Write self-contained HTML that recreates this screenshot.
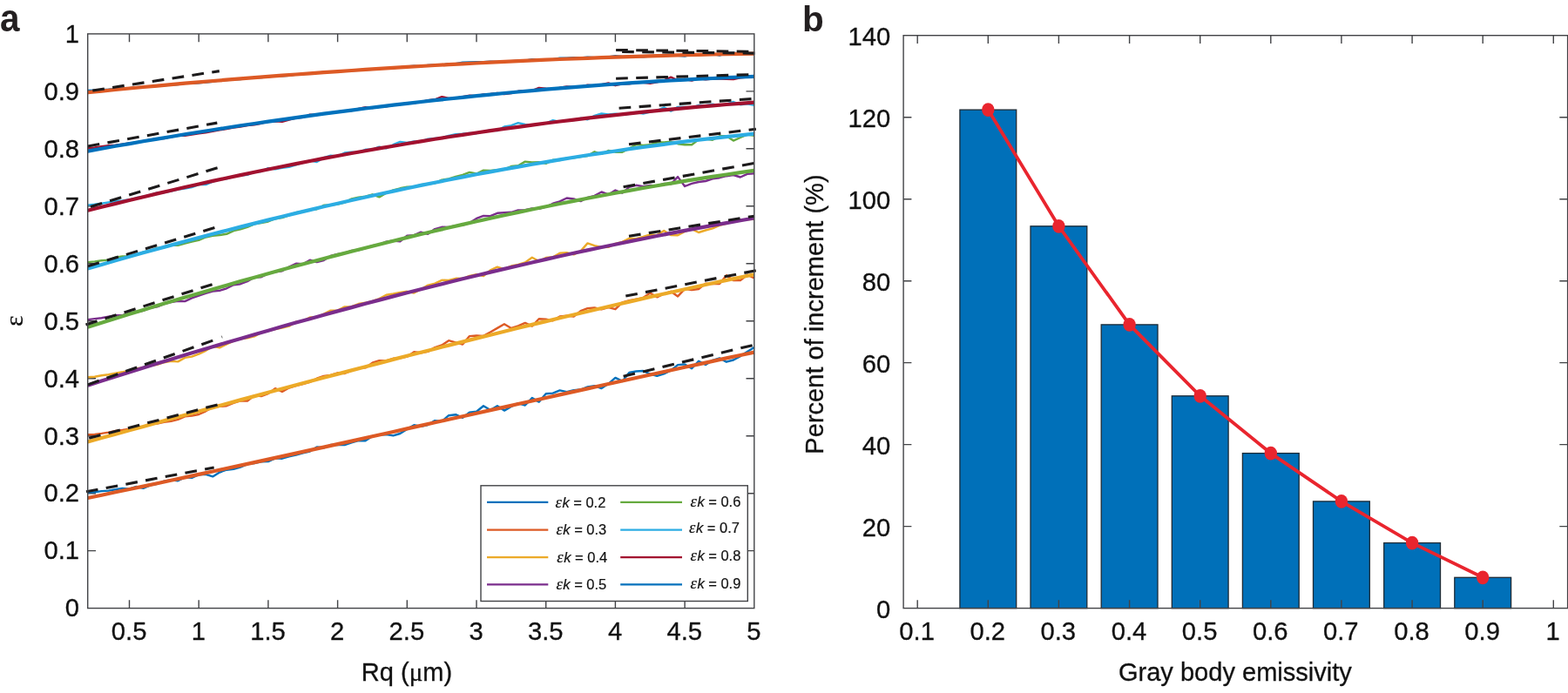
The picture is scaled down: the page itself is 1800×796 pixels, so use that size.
<!DOCTYPE html>
<html lang="en"><head><meta charset="utf-8"><title>Figure</title>
<style>
html,body{margin:0;padding:0;background:#fff;}
body{width:1800px;height:796px;overflow:hidden;}
svg{display:block;}
text{font-family:"Liberation Sans","DejaVu Sans",sans-serif;fill:#111;stroke:#111;stroke-width:0.3px;}
.tk{font-size:29.2px;}
.lb{font-size:29.05px;}
.lg{font-size:16.5px;stroke-width:0.2px;}
.it{font-style:italic;}
.ei{font-family:"Liberation Serif","DejaVu Serif",serif;font-style:italic;font-size:18.5px;}
.ep{font-family:"Liberation Serif","DejaVu Serif",serif;font-size:30px;stroke-width:0.2px;}
.mu{font-family:"Liberation Serif","DejaVu Serif",serif;}
.pl{font-size:40.5px;font-weight:bold;fill:#231F20;stroke:none;}
</style></head><body>
<svg width="1800" height="796" viewBox="0 0 1800 796">
<rect width="1800" height="796" fill="#fff"/>
<g id="pa">
<path d="M100.7 104.9h9.3 M865.8 104.9h-9.3" stroke="#424346" stroke-width="1.4" fill="none"/>
<path d="M100.7 170.8h9.3 M865.8 170.8h-9.3" stroke="#424346" stroke-width="1.4" fill="none"/>
<path d="M100.7 236.8h9.3 M865.8 236.8h-9.3" stroke="#424346" stroke-width="1.4" fill="none"/>
<path d="M100.7 302.8h9.3 M865.8 302.8h-9.3" stroke="#424346" stroke-width="1.4" fill="none"/>
<path d="M100.7 368.8h9.3 M865.8 368.8h-9.3" stroke="#424346" stroke-width="1.4" fill="none"/>
<path d="M100.7 434.7h9.3 M865.8 434.7h-9.3" stroke="#424346" stroke-width="1.4" fill="none"/>
<path d="M100.7 500.7h9.3 M865.8 500.7h-9.3" stroke="#424346" stroke-width="1.4" fill="none"/>
<path d="M100.7 566.7h9.3 M865.8 566.7h-9.3" stroke="#424346" stroke-width="1.4" fill="none"/>
<path d="M100.7 632.6h9.3 M865.8 632.6h-9.3" stroke="#424346" stroke-width="1.4" fill="none"/>
<polyline fill="none" stroke="#0071BC" stroke-width="2.4" stroke-linejoin="round" points="100.7,565.6 108.7,565.2 116.6,564.1 124.6,563.6 132.6,562.2 140.5,560.9 148.5,561.7 156.5,559.0 164.5,560.8 172.4,557.3 180.4,555.9 188.4,552.6 196.3,551.2 204.3,552.3 212.3,548.2 220.2,548.8 228.2,545.2 236.2,544.8 244.2,547.4 252.1,542.5 260.1,539.7 268.1,538.9 276.0,536.6 284.0,533.1 292.0,532.1 299.9,530.4 307.9,530.1 315.9,526.3 323.9,526.7 331.8,524.4 339.8,522.6 347.8,520.3 355.7,518.5 363.7,513.4 371.7,514.3 379.6,511.0 387.6,510.9 395.6,511.0 403.6,508.3 411.5,506.2 419.5,506.2 427.5,501.0 435.4,499.5 443.4,499.1 451.4,500.4 459.3,498.0 467.3,492.9 475.3,488.3 483.2,489.9 491.2,488.0 499.2,483.1 507.2,483.9 515.1,477.2 523.1,476.2 531.1,479.8 539.0,473.6 547.0,472.7 555.0,466.2 562.9,471.0 570.9,466.2 578.9,471.6 586.9,467.0 594.8,463.1 602.8,465.5 610.8,457.1 618.7,461.6 626.7,452.2 634.7,451.6 642.6,448.4 650.6,450.1 658.6,448.1 666.6,447.5 674.5,444.4 682.5,443.1 690.5,446.0 698.4,440.8 706.4,433.9 714.4,437.9 722.3,427.9 730.3,426.5 738.3,426.0 746.3,429.7 754.2,431.8 762.2,429.3 770.2,425.4 778.1,419.1 786.1,418.4 794.1,423.3 802.0,414.7 810.0,419.0 818.0,413.8 826.0,411.4 833.9,415.7 841.9,413.5 849.9,409.1 857.8,404.1 865.8,399.0"/>
<polyline fill="none" stroke="#DD5A25" stroke-width="4.2" stroke-linejoin="round" points="100.7,572.0 116.6,568.7 132.6,565.3 148.5,562.0 164.5,558.6 180.4,555.2 196.3,551.8 212.3,548.4 228.2,544.9 244.2,541.5 260.1,538.0 276.0,534.6 292.0,531.1 307.9,527.6 323.9,524.1 339.8,520.6 355.7,517.1 371.7,513.6 387.6,510.1 403.6,506.6 419.5,503.0 435.4,499.5 451.4,496.0 467.3,492.4 483.2,488.9 499.2,485.3 515.1,481.8 531.1,478.2 547.0,474.7 562.9,471.1 578.9,467.6 594.8,464.0 610.8,460.5 626.7,457.0 642.6,453.4 658.6,449.9 674.5,446.4 690.5,442.8 706.4,439.3 722.3,435.8 738.3,432.3 754.2,428.8 770.2,425.3 786.1,421.8 802.0,418.4 818.0,414.9 833.9,411.4 849.9,408.0 865.8,404.6"/>
<polyline fill="none" stroke="#DD5A25" stroke-width="2.4" stroke-linejoin="round" points="100.7,499.2 108.7,498.9 116.6,497.9 124.6,496.6 132.6,494.9 140.5,494.0 148.5,492.8 156.5,491.4 164.5,490.2 172.4,486.3 180.4,486.6 188.4,484.9 196.3,483.8 204.3,481.8 212.3,478.3 220.2,477.6 228.2,476.0 236.2,472.3 244.2,467.7 252.1,466.9 260.1,466.2 268.1,462.9 276.0,460.3 284.0,460.5 292.0,454.3 299.9,455.0 307.9,452.1 315.9,446.1 323.9,449.9 331.8,445.5 339.8,443.1 347.8,441.1 355.7,438.9 363.7,434.7 371.7,431.9 379.6,430.9 387.6,428.3 395.6,429.0 403.6,425.7 411.5,422.9 419.5,422.4 427.5,416.7 435.4,414.1 443.4,414.5 451.4,411.8 459.3,411.4 467.3,409.7 475.3,404.3 483.2,405.2 491.2,403.9 499.2,399.1 507.2,396.5 515.1,391.2 523.1,393.3 531.1,395.6 539.0,386.1 547.0,385.5 555.0,385.9 562.9,381.5 570.9,376.9 578.9,372.3 586.9,377.0 594.8,374.3 602.8,370.9 610.8,374.6 618.7,366.2 626.7,366.6 634.7,368.3 642.6,363.5 650.6,362.6 658.6,363.6 666.6,357.2 674.5,354.1 682.5,353.5 690.5,355.3 698.4,353.2 706.4,355.2 714.4,347.4 722.3,345.2 730.3,343.7 738.3,342.1 746.3,336.6 754.2,341.3 762.2,337.5 770.2,334.8 778.1,340.4 786.1,331.9 794.1,333.0 802.0,332.0 810.0,325.6 818.0,326.1 826.0,326.0 833.9,316.2 841.9,322.0 849.9,322.0 857.8,315.7 865.8,319.4"/>
<polyline fill="none" stroke="#ECAA28" stroke-width="4.2" stroke-linejoin="round" points="100.7,507.5 116.6,503.1 132.6,498.7 148.5,494.3 164.5,489.9 180.4,485.5 196.3,481.1 212.3,476.8 228.2,472.4 244.2,468.1 260.1,463.7 276.0,459.4 292.0,455.1 307.9,450.8 323.9,446.5 339.8,442.3 355.7,438.0 371.7,433.8 387.6,429.6 403.6,425.4 419.5,421.2 435.4,417.1 451.4,412.9 467.3,408.8 483.2,404.7 499.2,400.7 515.1,396.6 531.1,392.6 547.0,388.6 562.9,384.7 578.9,380.7 594.8,376.8 610.8,372.9 626.7,369.1 642.6,365.3 658.6,361.5 674.5,357.7 690.5,354.0 706.4,350.3 722.3,346.6 738.3,342.9 754.2,339.3 770.2,335.8 786.1,332.3 802.0,328.8 818.0,325.3 833.9,321.9 849.9,318.5 865.8,315.2"/>
<polyline fill="none" stroke="#ECAA28" stroke-width="2.4" stroke-linejoin="round" points="100.7,433.3 108.7,432.7 116.6,431.3 124.6,430.2 132.6,428.6 140.5,427.3 148.5,425.3 156.5,423.3 164.5,422.4 172.4,420.0 180.4,418.9 188.4,416.2 196.3,414.9 204.3,415.4 212.3,410.9 220.2,409.6 228.2,406.6 236.2,402.8 244.2,397.9 252.1,399.4 260.1,395.5 268.1,391.6 276.0,389.2 284.0,388.4 292.0,386.4 299.9,382.0 307.9,380.1 315.9,378.1 323.9,376.5 331.8,374.7 339.8,369.6 347.8,368.9 355.7,364.5 363.7,364.4 371.7,360.6 379.6,356.6 387.6,356.5 395.6,352.4 403.6,352.2 411.5,349.0 419.5,347.8 427.5,346.0 435.4,343.1 443.4,338.7 451.4,337.5 459.3,335.9 467.3,334.8 475.3,336.5 483.2,332.3 491.2,327.6 499.2,325.6 507.2,321.8 515.1,321.9 523.1,319.8 531.1,320.0 539.0,316.9 547.0,315.1 555.0,317.0 562.9,310.3 570.9,306.7 578.9,309.2 586.9,305.5 594.8,303.8 602.8,301.5 610.8,295.8 618.7,300.0 626.7,296.0 634.7,295.2 642.6,290.7 650.6,290.1 658.6,292.3 666.6,288.4 674.5,279.4 682.5,282.1 690.5,284.0 698.4,283.8 706.4,279.9 714.4,277.9 722.3,273.8 730.3,274.2 738.3,272.0 746.3,269.5 754.2,270.1 762.2,264.9 770.2,270.1 778.1,270.2 786.1,265.9 794.1,263.1 802.0,267.0 810.0,264.5 818.0,262.4 826.0,258.8 833.9,256.9 841.9,253.1 849.9,253.0 857.8,252.1 865.8,251.8"/>
<polyline fill="none" stroke="#7A2D8C" stroke-width="4.2" stroke-linejoin="round" points="100.7,442.7 116.6,437.6 132.6,432.5 148.5,427.5 164.5,422.5 180.4,417.6 196.3,412.7 212.3,407.8 228.2,403.0 244.2,398.3 260.1,393.6 276.0,388.9 292.0,384.2 307.9,379.7 323.9,375.1 339.8,370.6 355.7,366.2 371.7,361.7 387.6,357.4 403.6,353.1 419.5,348.8 435.4,344.6 451.4,340.4 467.3,336.3 483.2,332.2 499.2,328.2 515.1,324.2 531.1,320.3 547.0,316.5 562.9,312.6 578.9,308.9 594.8,305.2 610.8,301.5 626.7,297.9 642.6,294.3 658.6,290.8 674.5,287.4 690.5,284.0 706.4,280.7 722.3,277.4 738.3,274.2 754.2,271.0 770.2,267.9 786.1,264.9 802.0,261.9 818.0,258.9 833.9,256.1 849.9,253.3 865.8,250.5"/>
<polyline fill="none" stroke="#7A2D8C" stroke-width="2.4" stroke-linejoin="round" points="100.7,367.1 108.7,366.1 116.6,365.2 124.6,363.6 132.6,362.1 140.5,362.1 148.5,359.5 156.5,358.5 164.5,356.8 172.4,353.7 180.4,352.3 188.4,349.1 196.3,347.1 204.3,345.7 212.3,346.1 220.2,342.4 228.2,339.7 236.2,336.9 244.2,334.5 252.1,333.8 260.1,331.3 268.1,327.2 276.0,326.2 284.0,323.1 292.0,318.5 299.9,318.3 307.9,314.3 315.9,312.3 323.9,311.2 331.8,306.6 339.8,302.8 347.8,303.2 355.7,298.7 363.7,301.0 371.7,299.0 379.6,294.0 387.6,292.0 395.6,290.6 403.6,287.9 411.5,287.3 419.5,285.1 427.5,282.2 435.4,280.9 443.4,277.7 451.4,276.5 459.3,277.2 467.3,270.7 475.3,270.1 483.2,266.6 491.2,268.8 499.2,263.1 507.2,260.8 515.1,261.0 523.1,259.1 531.1,258.5 539.0,256.0 547.0,250.9 555.0,247.9 562.9,248.1 570.9,244.8 578.9,244.3 586.9,243.8 594.8,241.5 602.8,241.1 610.8,239.4 618.7,239.8 626.7,237.7 634.7,233.7 642.6,231.4 650.6,227.5 658.6,228.5 666.6,231.1 674.5,226.8 682.5,224.8 690.5,220.5 698.4,223.4 706.4,218.5 714.4,221.6 722.3,214.8 730.3,212.8 738.3,214.3 746.3,213.0 754.2,213.4 762.2,210.9 770.2,211.4 778.1,203.1 786.1,214.0 794.1,210.8 802.0,209.0 810.0,208.0 818.0,205.4 826.0,204.2 833.9,202.2 841.9,201.0 849.9,203.5 857.8,199.9 865.8,199.3"/>
<polyline fill="none" stroke="#66AA3F" stroke-width="4.2" stroke-linejoin="round" points="100.7,375.7 116.6,370.7 132.6,365.7 148.5,360.8 164.5,355.9 180.4,351.1 196.3,346.3 212.3,341.6 228.2,336.9 244.2,332.3 260.1,327.7 276.0,323.1 292.0,318.7 307.9,314.2 323.9,309.8 339.8,305.5 355.7,301.2 371.7,297.0 387.6,292.9 403.6,288.7 419.5,284.7 435.4,280.7 451.4,276.7 467.3,272.9 483.2,269.0 499.2,265.3 515.1,261.5 531.1,257.9 547.0,254.3 562.9,250.8 578.9,247.3 594.8,243.9 610.8,240.5 626.7,237.2 642.6,234.0 658.6,230.9 674.5,227.8 690.5,224.7 706.4,221.8 722.3,218.9 738.3,216.0 754.2,213.3 770.2,210.6 786.1,207.9 802.0,205.4 818.0,202.9 833.9,200.5 849.9,198.1 865.8,195.8"/>
<polyline fill="none" stroke="#66AA3F" stroke-width="2.4" stroke-linejoin="round" points="100.7,301.1 108.7,300.4 116.6,299.2 124.6,298.6 132.6,295.7 140.5,294.5 148.5,294.5 156.5,292.5 164.5,289.5 172.4,288.1 180.4,284.9 188.4,284.3 196.3,281.9 204.3,281.8 212.3,279.5 220.2,277.6 228.2,275.9 236.2,272.5 244.2,270.8 252.1,270.0 260.1,268.8 268.1,265.1 276.0,263.3 284.0,260.9 292.0,257.3 299.9,256.0 307.9,254.5 315.9,251.2 323.9,250.0 331.8,247.4 339.8,244.2 347.8,242.8 355.7,240.9 363.7,240.3 371.7,235.8 379.6,235.6 387.6,234.6 395.6,232.7 403.6,228.4 411.5,226.6 419.5,225.6 427.5,223.3 435.4,226.4 443.4,221.8 451.4,218.3 459.3,216.3 467.3,214.8 475.3,214.8 483.2,212.1 491.2,211.2 499.2,210.5 507.2,206.6 515.1,205.5 523.1,203.0 531.1,200.8 539.0,197.9 547.0,199.5 555.0,195.6 562.9,195.9 570.9,195.1 578.9,194.6 586.9,191.0 594.8,190.3 602.8,185.6 610.8,186.5 618.7,186.1 626.7,187.9 634.7,183.8 642.6,184.0 650.6,181.6 658.6,181.4 666.6,180.1 674.5,179.0 682.5,174.3 690.5,176.8 698.4,173.0 706.4,174.7 714.4,174.7 722.3,170.6 730.3,166.0 738.3,167.0 746.3,166.3 754.2,163.5 762.2,163.5 770.2,162.8 778.1,165.2 786.1,166.2 794.1,166.2 802.0,160.4 810.0,159.6 818.0,160.7 826.0,156.3 833.9,156.3 841.9,161.6 849.9,158.0 857.8,154.6 865.8,155.9"/>
<polyline fill="none" stroke="#2CADE3" stroke-width="4.2" stroke-linejoin="round" points="100.7,308.5 116.6,303.9 132.6,299.3 148.5,294.8 164.5,290.3 180.4,285.9 196.3,281.6 212.3,277.3 228.2,273.0 244.2,268.8 260.1,264.7 276.0,260.6 292.0,256.6 307.9,252.6 323.9,248.7 339.8,244.9 355.7,241.1 371.7,237.3 387.6,233.7 403.6,230.0 419.5,226.5 435.4,223.0 451.4,219.6 467.3,216.2 483.2,212.9 499.2,209.7 515.1,206.5 531.1,203.4 547.0,200.3 562.9,197.4 578.9,194.4 594.8,191.6 610.8,188.8 626.7,186.1 642.6,183.4 658.6,180.8 674.5,178.3 690.5,175.9 706.4,173.5 722.3,171.2 738.3,169.0 754.2,166.8 770.2,164.7 786.1,162.7 802.0,160.7 818.0,158.9 833.9,157.1 849.9,155.3 865.8,153.7"/>
<polyline fill="none" stroke="#2CADE3" stroke-width="2.4" stroke-linejoin="round" points="100.7,235.6 108.7,234.8 116.6,233.7 124.6,232.4 132.6,231.0 140.5,230.4 148.5,229.3 156.5,227.3 164.5,225.8 172.4,224.0 180.4,221.5 188.4,221.2 196.3,219.5 204.3,217.5 212.3,216.6 220.2,215.0 228.2,212.1 236.2,212.1 244.2,208.7 252.1,206.4 260.1,205.3 268.1,202.8 276.0,201.5 284.0,200.8 292.0,197.4 299.9,197.0 307.9,193.1 315.9,194.3 323.9,192.8 331.8,191.8 339.8,189.4 347.8,186.8 355.7,184.3 363.7,186.0 371.7,181.2 379.6,178.7 387.6,179.4 395.6,175.5 403.6,174.6 411.5,175.1 419.5,171.8 427.5,171.7 435.4,168.7 443.4,170.4 451.4,166.2 459.3,162.9 467.3,164.0 475.3,162.4 483.2,162.7 491.2,159.6 499.2,158.9 507.2,158.2 515.1,155.9 523.1,154.1 531.1,153.7 539.0,153.0 547.0,153.2 555.0,151.1 562.9,149.3 570.9,150.1 578.9,145.5 586.9,144.2 594.8,141.1 602.8,143.0 610.8,143.6 618.7,142.1 626.7,141.6 634.7,138.2 642.6,139.9 650.6,138.1 658.6,138.1 666.6,135.8 674.5,137.2 682.5,132.8 690.5,130.5 698.4,131.5 706.4,130.7 714.4,131.8 722.3,130.9 730.3,129.0 738.3,130.5 746.3,128.6 754.2,127.1 762.2,123.3 770.2,127.6 778.1,122.9 786.1,123.0 794.1,123.8 802.0,120.9 810.0,121.2 818.0,119.6 826.0,121.1 833.9,119.7 841.9,117.0 849.9,120.2 857.8,119.4 865.8,120.7"/>
<polyline fill="none" stroke="#A2112F" stroke-width="4.2" stroke-linejoin="round" points="100.7,241.8 116.6,237.8 132.6,233.9 148.5,230.0 164.5,226.2 180.4,222.4 196.3,218.7 212.3,215.0 228.2,211.5 244.2,207.9 260.1,204.5 276.0,201.1 292.0,197.7 307.9,194.5 323.9,191.2 339.8,188.1 355.7,185.0 371.7,181.9 387.6,179.0 403.6,176.0 419.5,173.2 435.4,170.4 451.4,167.7 467.3,165.0 483.2,162.4 499.2,159.8 515.1,157.3 531.1,154.9 547.0,152.5 562.9,150.2 578.9,147.9 594.8,145.8 610.8,143.6 626.7,141.5 642.6,139.5 658.6,137.6 674.5,135.7 690.5,133.8 706.4,132.1 722.3,130.4 738.3,128.7 754.2,127.1 770.2,125.6 786.1,124.1 802.0,122.7 818.0,121.3 833.9,120.0 849.9,118.8 865.8,117.6"/>
<polyline fill="none" stroke="#A2112F" stroke-width="2.4" stroke-linejoin="round" points="100.7,170.2 108.7,169.4 116.6,168.3 124.6,167.3 132.6,166.8 140.5,165.6 148.5,164.4 156.5,163.9 164.5,161.9 172.4,160.8 180.4,159.2 188.4,159.1 196.3,157.2 204.3,155.9 212.3,155.8 220.2,154.6 228.2,153.3 236.2,152.3 244.2,150.9 252.1,149.4 260.1,148.0 268.1,146.5 276.0,145.6 284.0,144.0 292.0,143.2 299.9,141.7 307.9,139.9 315.9,139.3 323.9,139.9 331.8,137.5 339.8,135.6 347.8,134.8 355.7,131.6 363.7,132.0 371.7,130.4 379.6,129.8 387.6,128.5 395.6,127.3 403.6,127.1 411.5,124.8 419.5,123.1 427.5,124.1 435.4,122.7 443.4,122.2 451.4,120.8 459.3,120.0 467.3,118.2 475.3,118.3 483.2,117.1 491.2,115.2 499.2,114.3 507.2,111.1 515.1,113.0 523.1,112.7 531.1,111.1 539.0,109.6 547.0,110.2 555.0,108.4 562.9,108.0 570.9,107.0 578.9,108.1 586.9,107.0 594.8,104.8 602.8,104.1 610.8,104.1 618.7,100.9 626.7,101.8 634.7,102.5 642.6,100.8 650.6,99.4 658.6,99.9 666.6,99.7 674.5,97.7 682.5,98.4 690.5,97.2 698.4,95.5 706.4,98.2 714.4,96.4 722.3,96.4 730.3,94.8 738.3,94.7 746.3,95.8 754.2,94.4 762.2,92.4 770.2,88.6 778.1,92.4 786.1,91.0 794.1,92.5 802.0,90.0 810.0,91.3 818.0,90.5 826.0,90.6 833.9,90.9 841.9,91.1 849.9,89.3 857.8,88.5 865.8,86.8"/>
<polyline fill="none" stroke="#0071BC" stroke-width="4.2" stroke-linejoin="round" points="100.7,173.6 116.6,170.7 132.6,167.8 148.5,165.1 164.5,162.3 180.4,159.6 196.3,157.0 212.3,154.3 228.2,151.8 244.2,149.3 260.1,146.8 276.0,144.3 292.0,142.0 307.9,139.6 323.9,137.3 339.8,135.1 355.7,132.9 371.7,130.7 387.6,128.6 403.6,126.6 419.5,124.5 435.4,122.6 451.4,120.7 467.3,118.8 483.2,117.0 499.2,115.2 515.1,113.5 531.1,111.8 547.0,110.2 562.9,108.6 578.9,107.0 594.8,105.5 610.8,104.1 626.7,102.7 642.6,101.4 658.6,100.1 674.5,98.9 690.5,97.7 706.4,96.5 722.3,95.4 738.3,94.4 754.2,93.4 770.2,92.5 786.1,91.6 802.0,90.7 818.0,90.0 833.9,89.2 849.9,88.5 865.8,87.9"/>
<polyline fill="none" stroke="#0071BC" stroke-width="2.4" stroke-linejoin="round" points="100.7,104.0 108.7,103.6 116.6,103.2 124.6,102.8 132.6,102.2 140.5,101.7 148.5,101.3 156.5,100.3 164.5,99.6 172.4,99.6 180.4,98.7 188.4,98.0 196.3,97.6 204.3,97.1 212.3,95.7 220.2,95.8 228.2,95.2 236.2,94.5 244.2,93.7 252.1,92.4 260.1,92.1 268.1,91.4 276.0,91.0 284.0,89.9 292.0,89.4 299.9,89.1 307.9,88.2 315.9,87.4 323.9,87.3 331.8,86.9 339.8,85.6 347.8,84.6 355.7,84.3 363.7,83.8 371.7,82.8 379.6,82.4 387.6,82.2 395.6,81.6 403.6,81.0 411.5,80.7 419.5,80.1 427.5,79.7 435.4,78.7 443.4,78.4 451.4,78.2 459.3,77.2 467.3,76.4 475.3,75.8 483.2,76.2 491.2,74.9 499.2,74.5 507.2,74.6 515.1,73.2 523.1,73.1 531.1,71.7 539.0,71.5 547.0,71.3 555.0,71.3 562.9,70.7 570.9,71.0 578.9,70.1 586.9,70.1 594.8,69.8 602.8,69.6 610.8,68.1 618.7,68.1 626.7,68.1 634.7,68.2 642.6,66.8 650.6,66.6 658.6,66.3 666.6,66.4 674.5,65.8 682.5,66.2 690.5,66.2 698.4,65.5 706.4,64.3 714.4,64.9 722.3,64.8 730.3,64.8 738.3,65.2 746.3,64.6 754.2,64.2 762.2,64.2 770.2,63.9 778.1,63.9 786.1,64.5 794.1,62.4 802.0,62.5 810.0,62.3 818.0,61.9 826.0,63.7 833.9,61.2 841.9,60.7 849.9,61.7 857.8,62.1 865.8,62.1"/>
<polyline fill="none" stroke="#DD5A25" stroke-width="4.2" stroke-linejoin="round" points="100.7,106.1 116.6,104.6 132.6,103.0 148.5,101.5 164.5,100.0 180.4,98.6 196.3,97.1 212.3,95.7 228.2,94.4 244.2,93.0 260.1,91.7 276.0,90.4 292.0,89.1 307.9,87.9 323.9,86.7 339.8,85.5 355.7,84.3 371.7,83.2 387.6,82.1 403.6,81.0 419.5,79.9 435.4,78.9 451.4,77.9 467.3,76.9 483.2,76.0 499.2,75.0 515.1,74.2 531.1,73.3 547.0,72.5 562.9,71.6 578.9,70.9 594.8,70.1 610.8,69.4 626.7,68.7 642.6,68.0 658.6,67.4 674.5,66.8 690.5,66.2 706.4,65.6 722.3,65.1 738.3,64.6 754.2,64.1 770.2,63.7 786.1,63.2 802.0,62.9 818.0,62.5 833.9,62.2 849.9,61.9 865.8,61.6"/>
<line x1="106.3" y1="104.0" x2="251.8" y2="81.6" stroke="#1c1a1b" stroke-width="3.1" stroke-dasharray="13.7 9.4"/>
<line x1="100.7" y1="168.0" x2="249.3" y2="141.1" stroke="#1c1a1b" stroke-width="3.1" stroke-dasharray="13.7 9.4"/>
<line x1="104.0" y1="237.5" x2="250.3" y2="192.6" stroke="#1c1a1b" stroke-width="3.1" stroke-dasharray="13.7 9.4"/>
<line x1="100.7" y1="305.8" x2="247.8" y2="261.1" stroke="#1c1a1b" stroke-width="3.1" stroke-dasharray="13.7 9.4"/>
<line x1="98.5" y1="372.9" x2="244.7" y2="326.3" stroke="#1c1a1b" stroke-width="3.1" stroke-dasharray="13.7 9.4"/>
<line x1="100.7" y1="441.9" x2="245.7" y2="390.6" stroke="#1c1a1b" stroke-width="3.1" stroke-dasharray="13.7 9.4"/>
<line x1="102.2" y1="503.3" x2="250.8" y2="464.6" stroke="#1c1a1b" stroke-width="3.1" stroke-dasharray="13.7 9.4"/>
<line x1="99.0" y1="564.8" x2="245.7" y2="536.9" stroke="#1c1a1b" stroke-width="3.1" stroke-dasharray="13.7 9.4"/>
<line x1="707.1" y1="57.5" x2="860.9" y2="59.2" stroke="#1c1a1b" stroke-width="3.1" stroke-dasharray="13.7 9.4"/>
<line x1="714.1" y1="59.5" x2="866.9" y2="61.1" stroke="#1c1a1b" stroke-width="3.1" stroke-dasharray="13.7 9.4"/>
<line x1="707.1" y1="90.2" x2="859.8" y2="85.7" stroke="#1c1a1b" stroke-width="3.1" stroke-dasharray="13.7 9.4"/>
<line x1="710.6" y1="124.2" x2="863.9" y2="113.5" stroke="#1c1a1b" stroke-width="3.1" stroke-dasharray="13.7 9.4"/>
<line x1="722.0" y1="165.8" x2="867.9" y2="148.2" stroke="#1c1a1b" stroke-width="3.1" stroke-dasharray="13.7 9.4"/>
<line x1="715.6" y1="214.7" x2="865.9" y2="187.5" stroke="#1c1a1b" stroke-width="3.1" stroke-dasharray="13.7 9.4"/>
<line x1="722.0" y1="271.3" x2="865.9" y2="248.2" stroke="#1c1a1b" stroke-width="3.1" stroke-dasharray="13.7 9.4"/>
<line x1="718.3" y1="340.1" x2="867.9" y2="310.7" stroke="#1c1a1b" stroke-width="3.1" stroke-dasharray="13.7 9.4"/>
<line x1="715.6" y1="432.3" x2="863.9" y2="396.6" stroke="#1c1a1b" stroke-width="3.1" stroke-dasharray="13.7 9.4"/>
<line x1="254.3" y1="385.6" x2="255.2" y2="388.4" stroke="#333" stroke-width="0.7"/>
<rect x="100.7" y="38.9" width="765.1" height="659.7" fill="none" stroke="#424346" stroke-width="1.4"/>
<path d="M148.5 698.6v-9.3 M148.5 38.9v9.3" stroke="#424346" stroke-width="1.4" fill="none"/>
<text x="148.1" y="735" text-anchor="middle" class="tk">0.5</text>
<path d="M228.2 698.6v-9.3 M228.2 38.9v9.3" stroke="#424346" stroke-width="1.4" fill="none"/>
<text x="227.8" y="735" text-anchor="middle" class="tk">1</text>
<path d="M307.9 698.6v-9.3 M307.9 38.9v9.3" stroke="#424346" stroke-width="1.4" fill="none"/>
<text x="307.5" y="735" text-anchor="middle" class="tk">1.5</text>
<path d="M387.6 698.6v-9.3 M387.6 38.9v9.3" stroke="#424346" stroke-width="1.4" fill="none"/>
<text x="387.2" y="735" text-anchor="middle" class="tk">2</text>
<path d="M467.3 698.6v-9.3 M467.3 38.9v9.3" stroke="#424346" stroke-width="1.4" fill="none"/>
<text x="466.9" y="735" text-anchor="middle" class="tk">2.5</text>
<path d="M547.0 698.6v-9.3 M547.0 38.9v9.3" stroke="#424346" stroke-width="1.4" fill="none"/>
<text x="546.6" y="735" text-anchor="middle" class="tk">3</text>
<path d="M626.7 698.6v-9.3 M626.7 38.9v9.3" stroke="#424346" stroke-width="1.4" fill="none"/>
<text x="626.3" y="735" text-anchor="middle" class="tk">3.5</text>
<path d="M706.4 698.6v-9.3 M706.4 38.9v9.3" stroke="#424346" stroke-width="1.4" fill="none"/>
<text x="706.0" y="735" text-anchor="middle" class="tk">4</text>
<path d="M786.1 698.6v-9.3 M786.1 38.9v9.3" stroke="#424346" stroke-width="1.4" fill="none"/>
<text x="785.7" y="735" text-anchor="middle" class="tk">4.5</text>
<text x="865.4" y="735" text-anchor="middle" class="tk">5</text>
<text x="91" y="708.2" text-anchor="end" class="tk">0</text>
<text x="91" y="642.3" text-anchor="end" class="tk">0.1</text>
<text x="91" y="576.4" text-anchor="end" class="tk">0.2</text>
<text x="91" y="510.6" text-anchor="end" class="tk">0.3</text>
<text x="91" y="444.7" text-anchor="end" class="tk">0.4</text>
<text x="91" y="378.8" text-anchor="end" class="tk">0.5</text>
<text x="91" y="312.9" text-anchor="end" class="tk">0.6</text>
<text x="91" y="247.0" text-anchor="end" class="tk">0.7</text>
<text x="91" y="181.2" text-anchor="end" class="tk">0.8</text>
<text x="91" y="115.3" text-anchor="end" class="tk">0.9</text>
<text x="91" y="49.4" text-anchor="end" class="tk">1</text>
<text x="467" y="782" text-anchor="middle" class="lb">Rq (<tspan class="mu">μ</tspan>m)</text>
<text transform="translate(26.3,368.6) rotate(-90)" text-anchor="middle" class="ep">ε</text>
<text transform="translate(0,36.2) scale(1,1.11)" class="pl">a</text>
<rect x="552.0" y="557.8" width="306.3" height="132.7" fill="#fff" stroke="#424346" stroke-width="1.4"/>
<line x1="559" y1="576.9" x2="629.3" y2="576.9" stroke="#0071BC" stroke-width="2.3"/>
<text x="637.5" y="582.9" class="lg"><tspan class="ei">ε</tspan><tspan class="it" dx="0.6">k</tspan> = 0.2</text>
<line x1="712.2" y1="576.9" x2="783" y2="576.9" stroke="#66AA3F" stroke-width="2.3"/>
<text x="792.5" y="581.8" class="lg"><tspan class="ei">ε</tspan><tspan class="it" dx="0.6">k</tspan> = 0.6</text>
<line x1="559" y1="608.6" x2="629.3" y2="608.6" stroke="#DD5A25" stroke-width="2.3"/>
<text x="638.4" y="614.3" class="lg"><tspan class="ei">ε</tspan><tspan class="it" dx="0.6">k</tspan> = 0.3</text>
<line x1="712.2" y1="608.6" x2="783" y2="608.6" stroke="#2CADE3" stroke-width="2.3"/>
<text x="791.1" y="611.8" class="lg"><tspan class="ei">ε</tspan><tspan class="it" dx="0.6">k</tspan> = 0.7</text>
<line x1="559" y1="640.2" x2="629.3" y2="640.2" stroke="#ECAA28" stroke-width="2.3"/>
<text x="639.3" y="645.7" class="lg"><tspan class="ei">ε</tspan><tspan class="it" dx="0.6">k</tspan> = 0.4</text>
<line x1="712.2" y1="640.2" x2="783" y2="640.2" stroke="#A2112F" stroke-width="2.3"/>
<text x="792.5" y="644.3" class="lg"><tspan class="ei">ε</tspan><tspan class="it" dx="0.6">k</tspan> = 0.8</text>
<line x1="559" y1="671.4" x2="629.3" y2="671.4" stroke="#7A2D8C" stroke-width="2.3"/>
<text x="638.4" y="676.9" class="lg"><tspan class="ei">ε</tspan><tspan class="it" dx="0.6">k</tspan> = 0.5</text>
<line x1="712.2" y1="671.4" x2="783" y2="671.4" stroke="#0071BC" stroke-width="2.3"/>
<text x="792.5" y="675.9" class="lg"><tspan class="ei">ε</tspan><tspan class="it" dx="0.6">k</tspan> = 0.9</text>
</g>
<g id="pb">
<rect x="1101.9" y="126.1" width="64.8" height="572.5" fill="#0070B9" stroke="#1d2b36" stroke-width="1.3"/>
<rect x="1183.0" y="259.8" width="64.8" height="438.8" fill="#0070B9" stroke="#1d2b36" stroke-width="1.3"/>
<rect x="1264.2" y="372.9" width="64.8" height="325.7" fill="#0070B9" stroke="#1d2b36" stroke-width="1.3"/>
<rect x="1345.3" y="454.8" width="64.8" height="243.8" fill="#0070B9" stroke="#1d2b36" stroke-width="1.3"/>
<rect x="1426.4" y="520.6" width="64.8" height="178.0" fill="#0070B9" stroke="#1d2b36" stroke-width="1.3"/>
<rect x="1507.5" y="575.9" width="64.8" height="122.7" fill="#0070B9" stroke="#1d2b36" stroke-width="1.3"/>
<rect x="1588.7" y="623.6" width="64.8" height="75.0" fill="#0070B9" stroke="#1d2b36" stroke-width="1.3"/>
<rect x="1669.8" y="663.3" width="64.8" height="35.3" fill="#0070B9" stroke="#1d2b36" stroke-width="1.3"/>
<rect x="1037.1" y="40.7" width="762.5" height="657.9" fill="none" stroke="#424346" stroke-width="1.4"/>
<path d="M1053.2 698.6v-9.3 M1053.2 40.7v9.3" stroke="#424346" stroke-width="1.4" fill="none"/>
<text x="1052.6" y="735" text-anchor="middle" class="tk">0.1</text>
<path d="M1134.3 698.6v-9.3 M1134.3 40.7v9.3" stroke="#424346" stroke-width="1.4" fill="none"/>
<text x="1133.7" y="735" text-anchor="middle" class="tk">0.2</text>
<path d="M1215.4 698.6v-9.3 M1215.4 40.7v9.3" stroke="#424346" stroke-width="1.4" fill="none"/>
<text x="1214.8" y="735" text-anchor="middle" class="tk">0.3</text>
<path d="M1296.6 698.6v-9.3 M1296.6 40.7v9.3" stroke="#424346" stroke-width="1.4" fill="none"/>
<text x="1296.0" y="735" text-anchor="middle" class="tk">0.4</text>
<path d="M1377.7 698.6v-9.3 M1377.7 40.7v9.3" stroke="#424346" stroke-width="1.4" fill="none"/>
<text x="1377.1" y="735" text-anchor="middle" class="tk">0.5</text>
<path d="M1458.8 698.6v-9.3 M1458.8 40.7v9.3" stroke="#424346" stroke-width="1.4" fill="none"/>
<text x="1458.2" y="735" text-anchor="middle" class="tk">0.6</text>
<path d="M1539.9 698.6v-9.3 M1539.9 40.7v9.3" stroke="#424346" stroke-width="1.4" fill="none"/>
<text x="1539.3" y="735" text-anchor="middle" class="tk">0.7</text>
<path d="M1621.1 698.6v-9.3 M1621.1 40.7v9.3" stroke="#424346" stroke-width="1.4" fill="none"/>
<text x="1620.5" y="735" text-anchor="middle" class="tk">0.8</text>
<path d="M1702.2 698.6v-9.3 M1702.2 40.7v9.3" stroke="#424346" stroke-width="1.4" fill="none"/>
<text x="1701.6" y="735" text-anchor="middle" class="tk">0.9</text>
<path d="M1783.3 698.6v-9.3 M1783.3 40.7v9.3" stroke="#424346" stroke-width="1.4" fill="none"/>
<text x="1782.7" y="735" text-anchor="middle" class="tk">1</text>
<text x="1022.3" y="709.8" text-anchor="end" class="tk">0</text>
<path d="M1037.1 604.6h9.3 M1799.6 604.6h-9.3" stroke="#424346" stroke-width="1.4" fill="none"/>
<text x="1022.3" y="615.8" text-anchor="end" class="tk">20</text>
<path d="M1037.1 510.6h9.3 M1799.6 510.6h-9.3" stroke="#424346" stroke-width="1.4" fill="none"/>
<text x="1022.3" y="521.8" text-anchor="end" class="tk">40</text>
<path d="M1037.1 416.6h9.3 M1799.6 416.6h-9.3" stroke="#424346" stroke-width="1.4" fill="none"/>
<text x="1022.3" y="427.8" text-anchor="end" class="tk">60</text>
<path d="M1037.1 322.7h9.3 M1799.6 322.7h-9.3" stroke="#424346" stroke-width="1.4" fill="none"/>
<text x="1022.3" y="333.9" text-anchor="end" class="tk">80</text>
<path d="M1037.1 228.7h9.3 M1799.6 228.7h-9.3" stroke="#424346" stroke-width="1.4" fill="none"/>
<text x="1022.3" y="239.9" text-anchor="end" class="tk">100</text>
<path d="M1037.1 134.7h9.3 M1799.6 134.7h-9.3" stroke="#424346" stroke-width="1.4" fill="none"/>
<text x="1022.3" y="145.9" text-anchor="end" class="tk">120</text>
<text x="1022.3" y="51.9" text-anchor="end" class="tk">140</text>
<polyline fill="none" stroke="#E9252E" stroke-width="3.8" points="1134.3,126.1 1215.4,259.8 1296.6,372.9 1377.7,454.8 1458.8,520.6 1539.9,575.9 1621.1,623.6 1702.2,663.3"/>
<ellipse cx="1134.3" cy="126.1" rx="7.2" ry="7.9" fill="#E9252E"/>
<ellipse cx="1215.4" cy="259.8" rx="7.2" ry="7.9" fill="#E9252E"/>
<ellipse cx="1296.6" cy="372.9" rx="7.2" ry="7.9" fill="#E9252E"/>
<ellipse cx="1377.7" cy="454.8" rx="7.2" ry="7.9" fill="#E9252E"/>
<ellipse cx="1458.8" cy="520.6" rx="7.2" ry="7.9" fill="#E9252E"/>
<ellipse cx="1539.9" cy="575.9" rx="7.2" ry="7.9" fill="#E9252E"/>
<ellipse cx="1621.1" cy="623.6" rx="7.2" ry="7.9" fill="#E9252E"/>
<ellipse cx="1702.2" cy="663.3" rx="7.2" ry="7.9" fill="#E9252E"/>
<text x="1417.9" y="782.2" text-anchor="middle" class="lb">Gray body emissivity</text>
<text transform="translate(945,361) rotate(-90)" text-anchor="middle" class="lb">Percent of increment (%)</text>
<text x="921" y="36.2" class="pl">b</text>
</g>
</svg>
</body></html>
